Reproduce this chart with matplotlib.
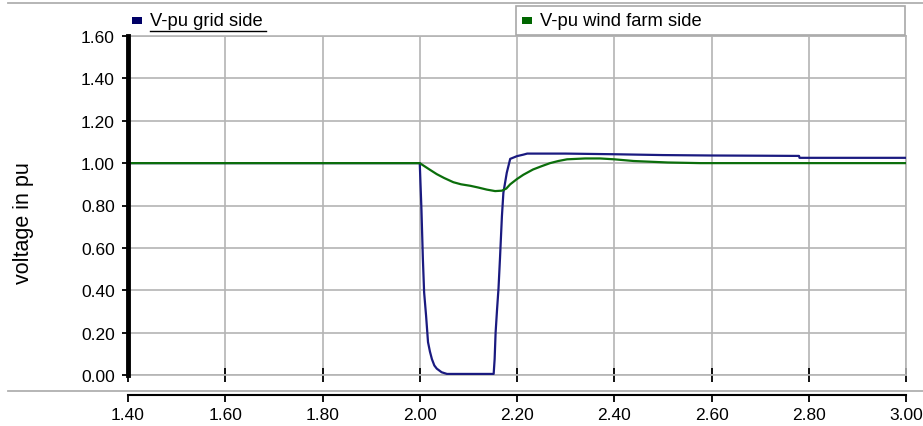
import matplotlib
matplotlib.use("Agg")
import matplotlib.pyplot as plt
from matplotlib.lines import Line2D
from matplotlib.patches import Rectangle

plt.rcParams['font.family'] = ['Liberation Sans', 'DejaVu Sans']

# ---- data ----
series_names = ["V-pu grid side", "V-pu wind farm side"]
series_colors = ["#1a1a80", "#0b6e0b"]
legend_colors = ["#000066", "#006600"]

t_grid = [1.40, 2.000, 2.0035, 2.0064, 2.009, 2.013, 2.017, 2.021, 2.025, 2.030,
          2.035, 2.045, 2.056, 2.152, 2.154, 2.156, 2.159, 2.162, 2.165, 2.169,
          2.172, 2.179, 2.186, 2.200, 2.213, 2.221, 2.300, 2.398, 2.500, 2.600,
          2.700, 2.780, 2.781, 3.000]
v_grid = [1.00, 1.00, 0.78, 0.55, 0.39, 0.28, 0.155, 0.11, 0.075, 0.045,
          0.03, 0.013, 0.005, 0.005, 0.075, 0.20, 0.31, 0.41, 0.55, 0.75,
          0.86, 0.955, 1.02, 1.033, 1.04, 1.045, 1.045, 1.042, 1.038, 1.036,
          1.035, 1.034, 1.025, 1.025]

t_wind = [1.40, 2.000, 2.010, 2.020, 2.035, 2.050, 2.069, 2.085, 2.104, 2.120,
          2.138, 2.155, 2.169, 2.178, 2.186, 2.200, 2.213, 2.233, 2.250, 2.268,
          2.285, 2.303, 2.340, 2.371, 2.400, 2.440, 2.510, 2.577, 3.000]
v_wind = [1.00, 1.00, 0.985, 0.97, 0.948, 0.93, 0.91, 0.90, 0.893, 0.885,
          0.875, 0.868, 0.87, 0.88, 0.90, 0.925, 0.945, 0.97, 0.985, 1.0,
          1.01, 1.018, 1.022, 1.022, 1.018, 1.01, 1.003, 1.0, 1.0]

x_ticks = [1.40, 1.60, 1.80, 2.00, 2.20, 2.40, 2.60, 2.80, 3.00]
y_ticks = [0.00, 0.20, 0.40, 0.60, 0.80, 1.00, 1.20, 1.40, 1.60]

# ---- figure ----
W, H = 923, 427
fig = plt.figure(figsize=(W / 100, H / 100), dpi=100)

def fx(px):
    return px / W

def fy(py):
    return 1 - py / H

left_px, right_px, top_px, bot_px = 128, 906, 37, 376
ax = fig.add_axes([fx(left_px), fy(bot_px), fx(right_px - left_px), (bot_px - top_px) / H])
ax.set_xlim(x_ticks[0], x_ticks[-1])
ax.set_ylim(y_ticks[0], y_ticks[-1])

grid_col = "#b4b4b4"
ax.set_xticks(x_ticks)
ax.set_yticks(y_ticks)
ax.grid(True, color=grid_col, linewidth=1.2)
ax.set_axisbelow(True)

ax.plot(t_grid, v_grid, color=series_colors[0], lw=1.6, zorder=3)
ax.plot(t_wind, v_wind, color=series_colors[1], lw=1.6, zorder=4)

for s in ["top", "right", "bottom"]:
    ax.spines[s].set_color(grid_col)
    ax.spines[s].set_linewidth(1.2)
ax.spines["left"].set_color("black")
ax.spines["left"].set_linewidth(3.5)
ax.spines["left"].set_zorder(5)

ax.tick_params(axis="x", direction="inout", length=9.5, width=1.3, color="black",
               labelbottom=False)
ax.tick_params(axis="y", direction="out", length=4.5, width=1.3, color="black",
               labelsize=12.5, pad=5)
ax.set_yticklabels([f"{v:.2f}" for v in y_ticks])

# separate x axis below the plot
axb = fig.add_axes([fx(left_px), fy(396), fx(right_px - left_px), 0.0001])
axb.set_xlim(x_ticks[0], x_ticks[-1])
axb.set_xticks(x_ticks)
axb.set_xticklabels([f"{v:.2f}" for v in x_ticks])
axb.set_yticks([])
for s in ["top", "right", "left"]:
    axb.spines[s].set_visible(False)
axb.spines["bottom"].set_linewidth(1.5)
axb.tick_params(axis="x", direction="out", length=5, width=1.3, color="black",
                labelsize=12.5, pad=4)
axb.patch.set_visible(False)

# horizontal separator lines
fig.add_artist(Line2D([fx(8), 1.0], [fy(392), fy(392)], color="#b0b0b0", lw=1.3))
fig.add_artist(Line2D([fx(8), 1.0], [fy(3.5), fy(3.5)], color="#b0b0b0", lw=1.3))

# y label
fig.text(fx(24), fy(223), "voltage in pu", rotation=90, ha="center", va="center",
         fontsize=15.5)

# legend
fig.add_artist(Rectangle((fx(516), fy(36)), fx(905 - 516), (36 - 7) / H,
                         facecolor="white", edgecolor="#a8a8a8", lw=1.2))
fig.add_artist(Rectangle((fx(132), fy(25)), fx(10), 7 / H, facecolor=legend_colors[0],
                         edgecolor="none"))
fig.text(fx(150), fy(21), series_names[0], ha="left", va="center", fontsize=13.2)
fig.add_artist(Line2D([fx(150), fx(266)], [fy(32), fy(32)], color="black", lw=1.0))
fig.add_artist(Rectangle((fx(522), fy(25)), fx(10), 7 / H, facecolor=legend_colors[1],
                         edgecolor="none"))
fig.text(fx(540), fy(21), series_names[1], ha="left", va="center", fontsize=13.2)

fig.savefig("out.png", dpi=100)
